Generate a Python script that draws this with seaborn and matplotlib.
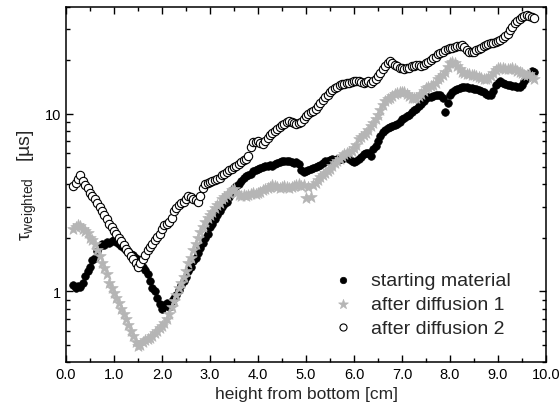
import numpy as np
import pandas as pd
import seaborn as sns
from matplotlib import pyplot as plt
from matplotlib import ticker

# sample positions along the column (cm)
height_cm = np.round(np.arange(0.15, 9.76, 0.05), 2)

# tau_weighted (us), one row = 0.5 cm
starting_material = [
    1.08, 1.05, 1.07, 1.06, 1.12, 1.22, 1.30, 1.38, 1.50, 1.55,
    1.68, 1.80, 1.85, 1.82, 1.90, 1.88, 1.92, 1.95, 1.90, 1.85,
    1.80, 1.76, 1.72, 1.68, 1.62, 1.60, 1.55, 1.50, 1.45, 1.38,
    1.32, 1.25, 1.15, 1.05, 1.00, 0.92, 0.85, 0.80, 0.84, 0.86,
    0.82, 0.88, 0.92, 0.96, 1.02, 1.08, 1.15, 1.20, 1.30, 1.38,
    1.48, 1.55, 1.65, 1.75, 1.88, 2.00, 2.10, 2.30, 2.40, 2.55,
    2.70, 2.85, 3.00, 3.10, 3.20, 3.40, 3.60, 3.80, 3.90, 4.00,
    4.20, 4.35, 4.45, 4.50, 4.60, 4.75, 4.85, 4.90, 4.95, 5.00,
    5.05, 5.10, 5.15, 5.10, 5.20, 5.30, 5.35, 5.40, 5.45, 5.40,
    5.45, 5.35, 5.30, 5.35, 5.20, 4.80, 4.70, 4.75, 4.85, 4.90,
    4.95, 5.00, 5.05, 5.15, 5.25, 5.40, 5.45, 5.50, 5.55, 5.50,
    5.60, 5.55, 5.60, 5.75, 5.80, 5.60, 5.40, 5.35, 5.40, 5.60,
    5.70, 5.90, 6.05, 6.00, 5.80, 6.30, 6.60, 7.00, 7.50, 7.90,
    8.10, 8.30, 8.40, 8.50, 8.60, 8.80, 9.00, 9.30, 9.50, 9.70,
    9.90, 10.2, 10.5, 10.7, 11.0, 11.3, 11.8, 12.2, 12.4, 12.5,
    12.6, 12.7, 12.8, 12.7, 12.2, 10.2, 11.5, 12.8, 13.3, 13.6,
    13.8, 14.0, 14.1, 14.2, 14.2, 14.0, 13.9, 13.8, 13.8, 13.7,
    13.5, 13.2, 12.9, 12.7, 12.8, 13.5, 14.5, 15.0, 15.2, 15.0,
    14.8, 14.6, 14.5, 14.4, 14.3, 14.2, 14.2, 14.5, 15.2, 16.0,
    16.8, 17.5, 17.2,
]

after_diffusion_1 = [
    2.25, 2.30, 2.35, 2.32, 2.25, 2.20, 2.12, 2.00, 1.95, 1.85,
    1.70, 1.58, 1.45, 1.35, 1.25, 1.12, 1.05, 0.98, 0.92, 0.86,
    0.80, 0.75, 0.70, 0.65, 0.60, 0.56, 0.52, 0.49, 0.50, 0.52,
    0.53, 0.54, 0.55, 0.56, 0.58, 0.60, 0.62, 0.64, 0.66, 0.70,
    0.75, 0.82, 0.88, 0.95, 1.05, 1.12, 1.20, 1.30, 1.45, 1.55,
    1.70, 1.85, 2.00, 2.15, 2.30, 2.45, 2.60, 2.70, 2.80, 2.95,
    3.05, 3.15, 3.30, 3.40, 3.50, 3.60, 3.70, 3.75, 3.60, 3.50,
    3.45, 3.50, 3.45, 3.50, 3.55, 3.60, 3.55, 3.60, 3.65, 3.70,
    3.75, 3.80, 3.85, 3.95, 3.90, 3.85, 3.80, 3.85, 3.90, 3.85,
    3.80, 3.85, 3.90, 3.95, 4.00, 3.90, 3.95, 3.35, 3.85, 3.40,
    3.95, 4.10, 4.25, 4.40, 4.50, 4.65, 4.75, 4.90, 5.10, 5.30,
    5.45, 5.60, 5.75, 5.90, 6.00, 6.10, 6.20, 6.40, 6.70, 7.20,
    7.40, 7.60, 7.80, 8.10, 8.50, 8.90, 9.30, 9.80, 10.5, 11.2,
    11.8, 12.1, 12.3, 12.6, 12.9, 13.1, 13.2, 13.3, 13.2, 12.9,
    12.6, 12.3, 12.2, 12.3, 12.6, 13.0, 13.5, 13.9, 14.2, 14.4,
    14.6, 15.0, 15.6, 16.2, 16.6, 17.3, 18.3, 19.2, 19.6, 19.3,
    18.6, 17.8, 17.3, 17.0, 16.8, 16.7, 16.6, 16.5, 16.4, 16.2,
    16.0, 15.8, 15.7, 15.9, 16.4, 17.0, 17.6, 18.0, 18.1, 18.0,
    17.9, 17.8, 17.9, 18.0, 17.8, 17.5, 17.2, 16.9, 16.6, 16.5,
    16.8, 16.2, 15.8,
]

after_diffusion_2 = [
    3.90, 4.10, 4.30, 4.50, 4.20, 3.95, 3.80, 3.60, 3.45, 3.30,
    3.15, 3.00, 2.85, 2.70, 2.55, 2.40, 2.30, 2.20, 2.10, 2.00,
    1.92, 1.82, 1.74, 1.66, 1.58, 1.52, 1.45, 1.38, 1.45, 1.52,
    1.60, 1.70, 1.78, 1.85, 1.95, 2.02, 2.10, 2.25, 2.35, 2.40,
    2.45, 2.60, 2.85, 2.95, 3.05, 3.15, 3.20, 3.30, 3.45, 3.40,
    3.30, 3.25, 3.20, 3.45, 3.80, 4.00, 4.10, 4.15, 4.20, 4.25,
    4.30, 4.35, 4.50, 4.60, 4.70, 4.80, 4.90, 5.00, 5.10, 5.20,
    5.35, 5.50, 5.60, 5.80, 6.50, 6.90, 6.95, 7.00, 6.85, 6.80,
    7.00, 7.30, 7.60, 7.80, 8.00, 8.20, 8.40, 8.60, 8.80, 9.00,
    9.10, 9.00, 8.90, 8.80, 8.90, 9.00, 9.30, 9.70, 10.0, 10.2,
    10.4, 10.7, 11.0, 11.5, 12.0, 12.5, 12.8, 13.2, 13.6, 13.9,
    14.2, 14.5, 14.7, 14.8, 14.9, 15.0, 15.1, 15.2, 15.3, 15.2,
    15.1, 15.0, 15.1, 15.2, 15.0, 15.2, 15.6, 16.3, 17.0, 17.8,
    18.6, 19.3, 19.7, 19.4, 18.9, 18.5, 18.2, 18.0, 17.9, 18.0,
    18.2, 18.5, 18.7, 18.8, 18.9, 18.7, 18.9, 19.3, 19.6, 20.0,
    20.5, 21.0, 21.6, 22.0, 22.4, 22.8, 23.1, 23.4, 23.6, 23.8,
    24.0, 24.1, 24.3, 23.8, 23.0, 22.4, 22.2, 22.4, 22.8, 23.2,
    23.6, 24.0, 24.3, 24.6, 24.9, 25.2, 25.5, 25.8, 26.1, 26.6,
    27.3, 28.2, 29.5, 31.0, 32.3, 33.4, 34.3, 35.0, 35.5, 35.8,
    35.6, 35.0, 34.6,
]

tab = pd.DataFrame({"height": height_cm,
                    "start": starting_material,
                    "diff1": after_diffusion_1,
                    "diff2": after_diffusion_2})

sns.set_style("ticks")
plt.rcParams["font.family"] = ["Liberation Sans", "DejaVu Sans"]
plt.rcParams["mathtext.fontset"] = "custom"
plt.rcParams["mathtext.rm"] = "Liberation Sans"
plt.rcParams["mathtext.it"] = "Liberation Sans"

fig, ax = plt.subplots(figsize=(5.6, 4.14), dpi=100)
fig.subplots_adjust(left=0.118, right=0.975, bottom=0.123, top=0.981)

sns.scatterplot(data=tab, x="height", y="start", ax=ax, marker="o",
                color="black", edgecolor="black", linewidth=0.5, s=30,
                label="starting material")
sns.scatterplot(data=tab, x="height", y="diff1", ax=ax, marker="*",
                color="#b5b5b5", edgecolor="#b5b5b5", linewidth=0.5, s=75,
                label="after diffusion 1")
sns.scatterplot(data=tab, x="height", y="diff2", ax=ax, marker="o",
                facecolor="white", edgecolor="black", linewidth=0.8, s=36,
                label="after diffusion 2")

ax.set_yscale("log")
ax.set_xlim(0, 10)
ax.set_ylim(0.4, 40)
ax.set_xticks(np.arange(0, 11, 1), labels=[f"{v:.1f}" for v in range(11)])
ax.xaxis.set_minor_locator(ticker.MultipleLocator(0.5))
ax.set_yticks([1, 10], labels=["1", "10"])
ax.yaxis.set_minor_locator(ticker.LogLocator(subs=np.arange(2, 10)))
ax.yaxis.set_minor_formatter(ticker.NullFormatter())
ax.tick_params(which="both", direction="in", top=True, right=True,
               labelsize=10.5, width=1, colors="black")
ax.tick_params(which="major", length=5)
ax.tick_params(which="minor", length=3)
for sp in ax.spines.values():
    sp.set_linewidth(1.1)
    sp.set_color("black")

ax.set_xlabel("height from bottom [cm]", fontsize=12.5)
ax.set_ylabel(r"$\mathregular{\tau_{weighted}}$   [µs]", fontsize=14)

ax.legend(loc="lower left", bbox_to_anchor=(0.52, 0.05), frameon=False,
          fontsize=14, handletextpad=0.45, labelspacing=0.32,
          markerscale=0.85, borderaxespad=0)

fig.savefig("out.png", dpi=100)
